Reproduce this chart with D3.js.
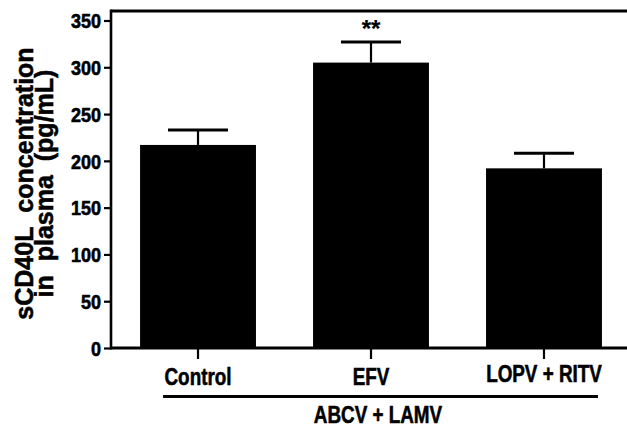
<!DOCTYPE html>
<html>
<head>
<meta charset="utf-8">
<script src="https://cdn.jsdelivr.net/npm/d3@7"></script>
<style>
  html, body { margin: 0; padding: 0; background: #fff; }
  svg { display: block; }
  text { font-family: "Liberation Sans", Arial, Helvetica, sans-serif; font-weight: bold; fill: #000; stroke: #000; stroke-width: 0.55px; }
</style>
</head>
<body>
<svg id="chart" width="627" height="427"></svg>
<script>
// ---- data ----
const categories = ["Control", "EFV", "LOPV + RITV"];
const means = [217, 305, 192];
const errors = [16, 22, 16];
const significance = ["", "**", ""];
const yTicks = [0, 50, 100, 150, 200, 250, 300, 350];
const groupLabel = "ABCV + LAMV";
const yTitleLines = ["sCD40L\u00a0\u00a0concentration", "in\u00a0\u00a0plasma\u00a0\u00a0(pg/mL)"];

const W = 627, H = 427;
const axisX = 111, axisBottom = 348, axisTop = 11;

const svg = d3.select("#chart");

const x = d3.scaleBand()
  .domain(categories)
  .range([axisX, 631])
  .paddingInner(0.33)
  .paddingOuter(0.168);

const y = d3.scaleLinear().domain([0, 350]).range([axisBottom, 20.5]);

const data = categories.map((c, i) => ({ c, m: means[i], e: errors[i], s: significance[i] }));

// bars
svg.append("g").selectAll("rect").data(data).join("rect")
  .attr("x", d => x(d.c))
  .attr("width", x.bandwidth())
  .attr("y", d => y(d.m))
  .attr("height", d => y(0) - y(d.m))
  .attr("fill", "#000");

// error bars (upper only)
const eg = svg.append("g").attr("stroke", "#000");
eg.selectAll("line.stem").data(data).join("line").attr("class", "stem")
  .attr("x1", d => x(d.c) + x.bandwidth() / 2)
  .attr("x2", d => x(d.c) + x.bandwidth() / 2)
  .attr("y1", d => y(d.m))
  .attr("y2", d => y(d.m + d.e))
  .attr("stroke-width", 2.2);
eg.selectAll("line.cap").data(data).join("line").attr("class", "cap")
  .attr("x1", d => x(d.c) + x.bandwidth() / 2 - 30)
  .attr("x2", d => x(d.c) + x.bandwidth() / 2 + 30)
  .attr("y1", d => y(d.m + d.e))
  .attr("y2", d => y(d.m + d.e))
  .attr("stroke-width", 3);

// significance stars
svg.append("g").selectAll("text").data(data.filter(d => d.s)).join("text")
  .attr("x", d => x(d.c) + x.bandwidth() / 2)
  .attr("y", d => y(d.m + d.e) - 5)
  .attr("text-anchor", "middle")
  .style("font-size", "24px")
  .style("stroke-width", "0.2px")
  .text(d => d.s);

// y axis
const yAxis = d3.axisLeft(y).tickValues(yTicks).tickSize(7).tickPadding(3).tickFormat(d3.format("d"));
const yg = svg.append("g").attr("transform", `translate(${axisX},0)`).call(yAxis);
yg.select(".domain").remove();
yg.selectAll(".tick line").attr("stroke", "#000").attr("stroke-width", 2.2);
yg.selectAll(".tick text").remove();
yg.selectAll(".tick").append("text")
  .attr("transform", "translate(-10,0) scale(0.95,1.07)")
  .attr("dy", "0.36em")
  .attr("text-anchor", "end")
  .style("font-size", "19px")
  .text(d => d3.format("d")(d));

// frame lines
svg.append("line").attr("x1", axisX).attr("x2", W).attr("y1", axisTop).attr("y2", axisTop)
  .attr("stroke", "#000").attr("stroke-width", 3);
svg.append("line").attr("x1", axisX).attr("x2", axisX).attr("y1", axisTop - 1.5).attr("y2", axisBottom + 1.5)
  .attr("stroke", "#000").attr("stroke-width", 2.6);

// x axis
const xAxis = d3.axisBottom(x).tickSize(11).tickFormat(() => "");
const xg = svg.append("g").attr("transform", `translate(0,${axisBottom})`).call(xAxis);
xg.select(".domain").remove();
xg.selectAll(".tick line").attr("stroke", "#000").attr("stroke-width", 2.2);
svg.append("line").attr("x1", axisX).attr("x2", W).attr("y1", axisBottom).attr("y2", axisBottom)
  .attr("stroke", "#000").attr("stroke-width", 3);

// category labels (condensed bold)
svg.append("g").selectAll("text").data(categories).join("text")
  .attr("transform", (d, i) => `translate(${x(d) + x.bandwidth() / 2},${i === 2 ? 381.5 : 384.5}) scale(0.82,1)`)
  .attr("text-anchor", "middle")
  .style("font-size", "23px")
  .text(d => d);

// group underline and label
svg.append("line").attr("x1", x(categories[0]) + 23).attr("x2", x(categories[2]) + x.bandwidth() - 4)
  .attr("y1", 396.5).attr("y2", 396.5).attr("stroke", "#000").attr("stroke-width", 3);
svg.append("text")
  .attr("transform", `translate(378,423) scale(0.82,1)`)
  .attr("text-anchor", "middle")
  .style("font-size", "23px")
  .text(groupLabel);

// y title
const yt = svg.append("text")
  .attr("transform", "translate(0,183.5) rotate(-90)")
  .attr("text-anchor", "middle")
  .style("font-size", "25px");
yTitleLines.forEach((l, i) => {
  yt.append("tspan").attr("x", 0).attr("y", i === 0 ? 33 : 53).text(l);
});
</script>
</body>
</html>
